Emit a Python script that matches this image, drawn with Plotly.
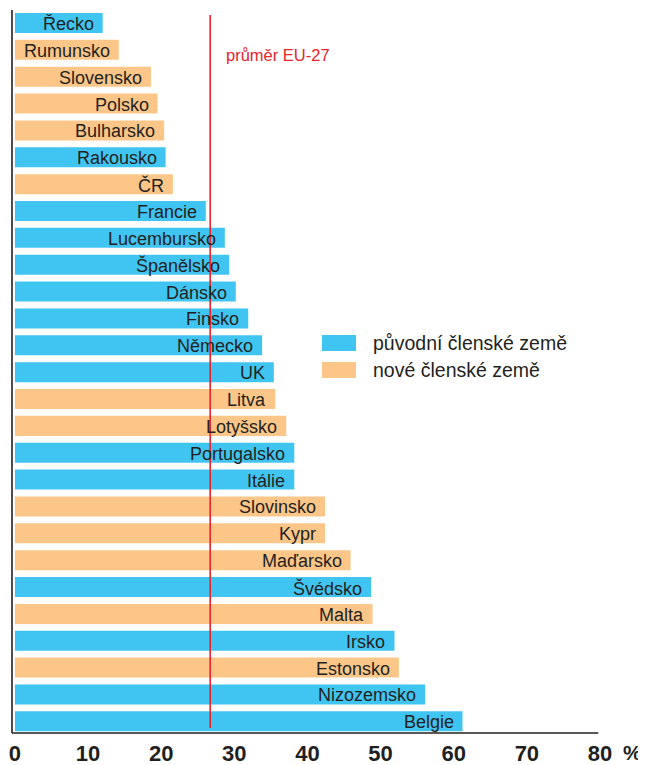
import plotly.graph_objects as go

countries = ["Řecko", "Rumunsko", "Slovensko", "Polsko", "Bulharsko", "Rakousko", "ČR",
             "Francie", "Lucembursko", "Španělsko", "Dánsko", "Finsko", "Německo", "UK",
             "Litva", "Lotyšsko", "Portugalsko", "Itálie", "Slovinsko", "Kypr", "Maďarsko",
             "Švédsko", "Malta", "Irsko", "Estonsko", "Nizozemsko", "Belgie"]
values = [12.0, 14.2, 18.6, 19.5, 20.4, 20.6, 21.6,
          26.1, 28.7, 29.3, 30.2, 31.9, 33.8, 35.4,
          35.6, 37.1, 38.2, 38.2, 42.4, 42.4, 45.9,
          48.7, 48.9, 51.9, 52.5, 56.1, 61.2]
# "o" = původní členské země, "n" = nové členské země
groups = ["o", "n", "n", "n", "n", "o", "n",
          "o", "o", "o", "o", "o", "o", "o",
          "n", "n", "o", "o", "n", "n", "n",
          "o", "n", "o", "n", "o", "o"]
eu_average = 26.7
tick_values = [0, 10, 20, 30, 40, 50, 60, 70, 80]
legend_labels = {"o": "původní členské země", "n": "nové členské země"}

BLUE = "#40C5F2"
ORANGE = "#FBC688"
TEXT = "#231F20"
RED = "#E8232B"
FONT = "Liberation Sans, Arial, sans-serif"

# page body has an 8px default margin; compensate so the drawing lands where the reference has it
OFF = 8
PLOT_L, PLOT_T, PLOT_W, PLOT_H = 12, 10, 588, 723

colors = [BLUE if g == "o" else ORANGE for g in groups]

fig = go.Figure()
fig.add_trace(go.Bar(
    x=values, y=countries, orientation="h",
    marker=dict(color=colors, line=dict(width=0)),
    width=0.745, showlegend=False, hoverinfo="x+y",
))

annotations = []
for c, v in zip(countries, values):
    annotations.append(dict(
        x=v, y=c, xref="x", yref="y", text=c, showarrow=False,
        xanchor="right", yanchor="middle", xshift=-7, yshift=-1,
        font=dict(family=FONT, size=18, color=TEXT),
    ))

shapes = [
    dict(type="line", xref="x", yref="paper", x0=eu_average, x1=eu_average,
         y0=0.007, y1=0.993, line=dict(color=RED, width=1.6)),
    dict(type="line", xref="paper", yref="paper", x0=0, x1=0, y0=0, y1=1,
         line=dict(color=TEXT, width=1.6)),
    dict(type="line", xref="paper", yref="paper", x0=0, x1=0.997, y0=0, y1=0,
         line=dict(color=TEXT, width=1.6)),
]
annotations.append(dict(
    x=eu_average, y=countries[1], xref="x", yref="y", text="průměr EU-27",
    showarrow=False, xanchor="left", yanchor="middle", xshift=14, yshift=-5,
    font=dict(family=FONT, size=16.5, color=RED),
))

# legend (manual)
leg_items = [("o", BLUE, 343), ("n", ORANGE, 370)]
for key, col, ypix in leg_items:
    yc = 1 - (ypix - PLOT_T) / PLOT_H
    shapes.append(dict(type="rect", xref="paper", yref="paper",
                       x0=(322 - PLOT_L) / PLOT_W, x1=(356 - PLOT_L) / PLOT_W,
                       y0=yc - 8 / PLOT_H, y1=yc + 8 / PLOT_H,
                       fillcolor=col, line=dict(width=0)))
    annotations.append(dict(
        xref="paper", yref="paper", x=(371 - PLOT_L) / PLOT_W, y=yc,
        text=legend_labels[key], showarrow=False, xanchor="left", yanchor="middle",
        font=dict(family=FONT, size=19.5, color=TEXT),
    ))

annotations.append(dict(
    xref="paper", yref="paper", x=(622 - PLOT_L) / PLOT_W, y=-(753 - PLOT_T - PLOT_H) / PLOT_H,
    text="%", showarrow=False, xanchor="left", yanchor="middle", borderpad=0,
    font=dict(family=FONT, size=21, color=TEXT, weight="bold"),
))

W, H = 646 - OFF, 765 - OFF
fig.update_layout(
    width=W, height=H,
    margin=dict(l=PLOT_L - OFF, r=W - (PLOT_L - OFF) - PLOT_W, t=PLOT_T - OFF,
                b=H - (PLOT_T - OFF) - PLOT_H, pad=0),
    paper_bgcolor="white", plot_bgcolor="white",
    shapes=shapes, annotations=annotations,
    xaxis=dict(range=[-0.4, 80], tickvals=tick_values,
               ticktext=[str(t) for t in tick_values],
               showgrid=False, zeroline=False, showline=False, ticks="",
               tickfont=dict(family=FONT, size=22, color=TEXT, weight="bold"),
               ticklabelstandoff=5, fixedrange=True, automargin=False),
    yaxis=dict(categoryorder="array", categoryarray=countries,
               range=[26.435, -0.484], showticklabels=False, showgrid=False,
               zeroline=False, showline=False, ticks="", fixedrange=True,
               automargin=False),
)

fig.write_html("out.html")
